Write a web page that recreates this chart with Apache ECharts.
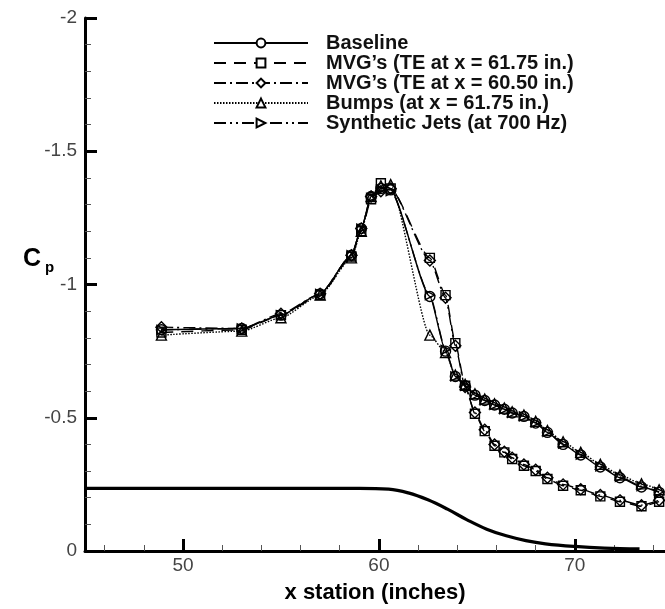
<!DOCTYPE html>
<html>
<head>
<meta charset="utf-8">
<script src="https://cdn.jsdelivr.net/npm/echarts@6/dist/echarts.min.js"></script>
<style>
  html, body { margin: 0; padding: 0; background: #fff; }
  #chart { width: 665px; height: 609px; }
</style>
</head>
<body>
<div id="chart"></div>
<script>
// pressure tap stations (inches)
const xStations = [48.9, 53.0, 55.0, 57.0, 58.6, 59.1, 59.6, 60.1, 60.6, 62.6, 63.4, 63.9, 64.4, 64.9, 65.4, 65.9, 66.4, 66.8, 67.4, 68.0, 68.6, 69.4, 70.3, 71.3, 72.3, 73.4, 74.3]

const cpBaseline = [-0.83, -0.835, -0.885, -0.965, -1.11, -1.21, -1.33, -1.36, -1.355, -0.955, -0.75, -0.655, -0.62, -0.585, -0.565, -0.548, -0.532, -0.518, -0.505, -0.48, -0.445, -0.40, -0.36, -0.315, -0.275, -0.24, -0.22]
const cpMvg6175 = [-0.82, -0.83, -0.885, -0.96, -1.105, -1.20, -1.32, -1.38, -1.36, -1.10, -0.96, -0.78, -0.62, -0.515, -0.45, -0.395, -0.37, -0.345, -0.32, -0.30, -0.27, -0.245, -0.228, -0.205, -0.185, -0.168, -0.185]
const cpMvg6050 = [-0.84, -0.835, -0.89, -0.965, -1.11, -1.21, -1.33, -1.35, -1.36, -1.09, -0.95, -0.77, -0.615, -0.52, -0.455, -0.40, -0.372, -0.35, -0.325, -0.305, -0.275, -0.25, -0.232, -0.21, -0.19, -0.172, -0.19]
const cpBumps = [-0.81, -0.825, -0.875, -0.96, -1.10, -1.20, -1.33, -1.37, -1.375, -0.81, -0.745, -0.66, -0.625, -0.59, -0.57, -0.552, -0.536, -0.522, -0.51, -0.487, -0.452, -0.41, -0.37, -0.325, -0.285, -0.252, -0.23]
const cpJets = [-0.83, -0.835, -0.885, -0.965, -1.11, -1.21, -1.325, -1.355, -1.35, -0.96, -0.755, -0.655, -0.62, -0.585, -0.565, -0.548, -0.532, -0.518, -0.505, -0.482, -0.447, -0.403, -0.362, -0.318, -0.278, -0.243, -0.222]

// wall contour (bump geometry)
const surfaceX = [45, 59, 60.5, 61.5, 62.5, 63.5, 64.5, 65.5, 66.5, 67.5, 68.5, 70, 71.5, 73.3]
const surfaceY = [-0.235, -0.235, -0.232, -0.218, -0.192, -0.157, -0.117, -0.082, -0.057, -0.039, -0.027, -0.017, -0.011, -0.008]

const xLabelValues = [50, 60, 70]
const xMinorValues = [46, 48, 52, 54, 56, 58, 62, 64, 66, 68, 72, 74]

const chart = echarts.init(document.getElementById('chart'), null, { renderer: 'canvas' })

function pairs(ys) {
  return xStations.map((x, i) => [x, ys[i]])
}

function cpSeries(name, ys, symbol, size, dash) {
  return {
    name: name,
    type: 'line',
    data: pairs(ys),
    smooth: 0.2,
    smoothMonotone: 'x',
    symbol: symbol,
    symbolSize: size,
    showAllSymbol: true,
    lineStyle: { color: '#000', width: 1.4, type: dash },
    itemStyle: { color: 'rgba(255,255,255,0)', borderColor: '#000', borderWidth: 1.4 },
    emphasis: { disabled: true },
    z: 3
  }
}

const option = {
  backgroundColor: '#fff',
  animation: false,
  title: [
    { text: 'C', left: 18, top: 242, textStyle: { fontSize: 25, fontWeight: 'bold', color: '#000', fontFamily: 'Liberation Sans' } },
    { text: 'p', left: 40, top: 255, textStyle: { fontSize: 15, fontWeight: 'bold', color: '#000', fontFamily: 'Liberation Sans' } }
  ],
  legend: {
    orient: 'vertical',
    left: 213,
    top: 33,
    padding: 0,
    itemWidth: 94,
    itemHeight: 11,
    itemGap: 0,
    selectedMode: false,
    itemStyle: { color: '#fff' },
    textStyle: {
      fontSize: 20,
      fontWeight: 'bold',
      color: '#111',
      fontFamily: 'Liberation Sans',
      lineHeight: 19,
      padding: [0, 0, 0, 13]
    },
    data: ['Baseline', 'MVG’s (TE at x = 61.75 in.)', 'MVG’s (TE at x = 60.50 in.)', 'Bumps (at x = 61.75 in.)', 'Synthetic Jets (at 700 Hz)']
  },
  grid: { left: 85, right: 0, top: 18, bottom: 51 },
  xAxis: [{
    type: 'value',
    min: 45,
    max: 74.6,
    name: 'x station (inches)',
    nameLocation: 'middle',
    nameGap: 31,
    nameTextStyle: { fontSize: 22, fontWeight: 'bold', color: '#000', fontFamily: 'Liberation Sans' },
    axisLine: { show: true, onZero: false, lineStyle: { color: '#000', width: 3 } },
    axisTick: { show: true, inside: true, length: 12, customValues: xLabelValues, lineStyle: { color: '#000', width: 3 } },
    axisLabel: { customValues: xLabelValues, margin: 5, fontSize: 19, color: '#444', fontFamily: 'Liberation Sans' },
    splitLine: { show: false }
  }, {
    type: 'value',
    min: 45,
    max: 74.6,
    position: 'bottom',
    axisLine: { show: false },
    axisTick: { show: true, inside: true, length: 6, customValues: xMinorValues, lineStyle: { color: '#555', width: 1 } },
    axisLabel: { show: false },
    splitLine: { show: false }
  }],
  yAxis: {
    type: 'value',
    inverse: true,
    min: -2,
    max: 0,
    interval: 0.5,
    axisLine: { show: true, onZero: false, lineStyle: { color: '#000', width: 3 } },
    axisTick: { show: true, inside: true, length: 12, lineStyle: { color: '#000', width: 3 } },
    minorTick: { show: true, splitNumber: 5, length: 6, lineStyle: { color: '#555', width: 1 } },
    axisLabel: { margin: 8, fontSize: 19, color: '#444', fontFamily: 'Liberation Sans' },
    splitLine: { show: false }
  },
  series: [
    {
      name: 'surface',
      type: 'line',
      data: surfaceX.map((x, i) => [x, surfaceY[i]]),
      smooth: 0.4,
      symbol: 'none',
      lineStyle: { color: '#000', width: 3.2 },
      emphasis: { disabled: true },
      z: 2
    },
    cpSeries('Baseline', cpBaseline, 'circle', 10, 'solid'),
    cpSeries('MVG’s (TE at x = 61.75 in.)', cpMvg6175, 'rect', 9, [12, 8]),
    cpSeries('MVG’s (TE at x = 60.50 in.)', cpMvg6050, 'diamond', 11, [12, 4, 2, 4]),
    cpSeries('Bumps (at x = 61.75 in.)', cpBumps, 'triangle', 10, [1.5, 1.5]),
    cpSeries('Synthetic Jets (at 700 Hz)', cpJets, 'path://M0,0L10,5L0,10Z', 9, [12, 4, 2, 4, 2, 4])
  ]
}

chart.setOption(option)
</script>
</body>
</html>
